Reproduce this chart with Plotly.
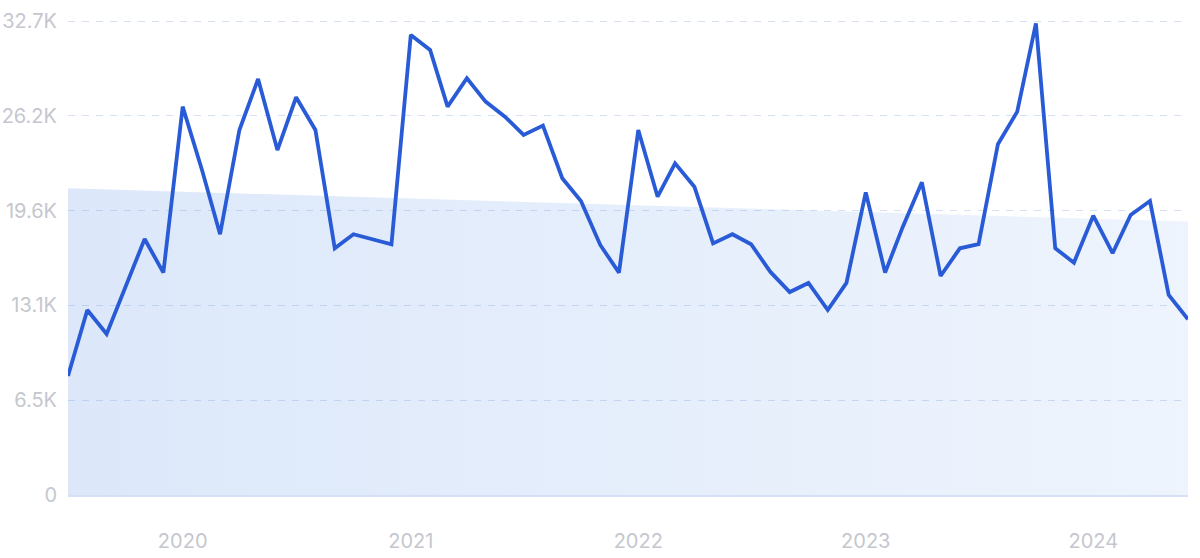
import pandas as pd
import plotly.graph_objects as go

# Monthly values, Jul 2019 – Jun 2024
start_month = "2019-07-01"
values = [
    8210, 12760, 11110, 14350, 17660, 15340, 26790, 22420, 17990, 25180,
    28700, 23800, 27440, 25180, 17020, 17990, 17660, 17300, 31740, 30700,
    26790, 28750, 27140, 26100, 24840, 25480, 21850, 20280, 17250, 15340,
    25180, 20580, 22880, 21270, 17360, 17990, 17300, 15390, 14000, 14630,
    12760, 14630, 20880, 15340, 18460, 21570, 15110, 17020, 17300, 24200,
    26450, 32540, 17020, 16030, 19270, 16680, 19320, 20280, 13800, 12120,
]
trend_values = [21160, 18860]  # linear trend at first and last month

y_tick_vals = [0, 6540, 13080, 19620, 26160, 32700]
y_tick_text = ["0", "6.5K", "13.1K", "19.6K", "26.2K", "32.7K"]
x_tick_vals = ["2020-01-01", "2021-01-01", "2022-01-01", "2023-01-01", "2024-01-01"]
x_tick_text = ["2020", "2021", "2022", "2023", "2024"]

dates = pd.date_range(start_month, periods=len(values), freq="MS")

fig = go.Figure()
fig.add_trace(go.Scatter(
    x=[dates[0], dates[-1]], y=trend_values,
    mode="lines", line=dict(width=0),
    fill="tozeroy",
    fillgradient=dict(type="horizontal",
                      colorscale=[[0, "rgba(115,163,235,0.25)"],
                                  [1, "rgba(115,163,235,0.12)"]]),
    hoverinfo="skip", showlegend=False,
))
fig.add_trace(go.Scatter(
    x=dates, y=values, mode="lines",
    line=dict(color="#2a5bd7", width=3.8),
    showlegend=False, cliponaxis=False,
))

tick_font = dict(family="Inter, Roboto, sans-serif", size=20, color="#c5c7ce")
fig.update_layout(
    width=1200, height=558,
    margin=dict(l=68, r=12, t=18, b=63),
    paper_bgcolor="white", plot_bgcolor="white",
    hovermode=False,
    xaxis=dict(
        range=[dates[0], dates[-1]],
        tickvals=x_tick_vals, ticktext=x_tick_text,
        tickfont=tick_font, ticks="", ticklen=0,
        showgrid=False, zeroline=False, automargin=False,
        showline=True, linecolor="#d3e0f5", linewidth=1.5,
        ticklabelstandoff=27,
    ),
    yaxis=dict(
        range=[0, 32907],
        tickvals=y_tick_vals, ticktext=y_tick_text,
        tickfont=tick_font, ticks="", automargin=False,
        showgrid=True, gridcolor="#d5e0f3", gridwidth=1, griddash="7px,7px",
        zeroline=False, showline=False,
        ticklabelstandoff=10,
    ),
)

fig.write_html(
    "out.html",
    config={"displayModeBar": False},
    post_script="document.body.style.margin='0';document.body.style.overflow='hidden';",
)
